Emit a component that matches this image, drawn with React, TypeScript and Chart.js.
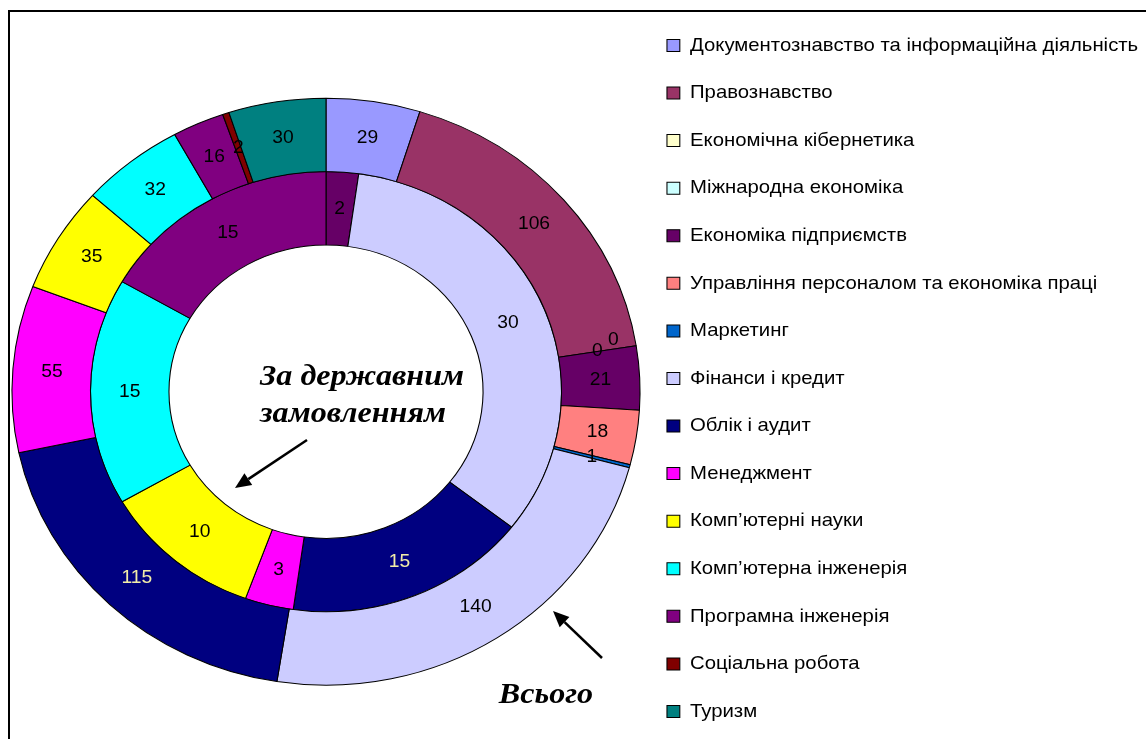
import React, { useEffect, useRef } from 'react';
import { Chart, registerables } from 'chart.js';

Chart.register(...registerables);

// ---- data ----
const categories = [
  'Документознавство та інформаційна діяльність',
  'Правознавство',
  'Економічна кібернетика',
  'Міжнародна економіка',
  'Економіка підприємств',
  'Управління персоналом та економіка праці',
  'Маркетинг',
  'Фінанси і кредит',
  'Облік і аудит',
  'Менеджмент',
  'Комп’ютерні науки',
  'Комп’ютерна інженерія',
  'Програмна інженерія',
  'Соціальна робота',
  'Туризм',
];
const seriesNames = ['Всього', 'За державним замовленням'];
const totalValues = [29, 106, 0, 0, 21, 18, 1, 140, 115, 55, 35, 32, 16, 2, 30];
const stateOrderValues = [null, null, null, null, 2, null, null, 30, 15, 3, 10, 15, 15, null, null];

// ---- style ----
const colors = [
  '#9999FF', '#993366', '#FFFFCC', '#CCFFFF', '#660066', '#FF8080', '#0066CC', '#CCCCFF',
  '#000080', '#FF00FF', '#FFFF00', '#00FFFF', '#800080', '#800000', '#008080',
];
const STRETCH_X = 1.07;
const LABEL_FONT = '18px "Liberation Sans", Arial, sans-serif';
const NOTE_FONT = 'italic bold 30px "Liberation Serif", "Times New Roman", serif';
const LEGEND_FAMILY = '"Liberation Sans", Arial, sans-serif';
const LEGEND_SIZE = 19;
const LEGEND_BOX = 12;
const LEGEND_PAD = 28.57;
const CANVAS_W = 1146;
const CANVAS_H = 776;
const LEGEND_LEFT = 638.4;
const labelNudge: Record<string, [number, number]> = { '0-2': [16, -11] };

function labelColor(bg: string) {
  return bg === '#000080' ? '#F2EDA8' : '#000000';
}

function stretchAbout(ctx: CanvasRenderingContext2D, cx: number) {
  ctx.translate(cx, 0);
  ctx.scale(STRETCH_X, 1);
  ctx.translate(-cx, 0);
}

function stretchedText(ctx: CanvasRenderingContext2D, text: string, x: number, y: number) {
  ctx.save();
  stretchAbout(ctx, x);
  ctx.fillText(text, x, y);
  ctx.restore();
}

const ellipseAndLabels = {
  id: 'ellipseAndLabels',
  beforeDraw(chart: any) {
    const ctx = chart.ctx;
    ctx.save();
    const lg = chart.legend;
    const anchor = lg ? lg.left + lg.options.labels.padding : 0;
    stretchAbout(ctx, anchor);
  },
  beforeDatasetsDraw(chart: any) {
    const ctx = chart.ctx;
    ctx.restore();
    const arc = chart.getDatasetMeta(0).data[0];
    ctx.save();
    stretchAbout(ctx, arc.x);
  },
  afterDatasetsDraw(chart: any) {
    const ctx = chart.ctx;
    ctx.restore();
    ctx.save();
    ctx.font = LABEL_FONT;
    ctx.textAlign = 'center';
    ctx.textBaseline = 'middle';
    chart.data.datasets.forEach((ds: any, di: number) => {
      const meta = chart.getDatasetMeta(di);
      meta.data.forEach((arc: any, i: number) => {
        const raw = ds.data[i];
        if (raw === null || raw === undefined) return;
        const p = arc.getProps(['x', 'y', 'startAngle', 'endAngle', 'innerRadius', 'outerRadius'], true);
        const a = (p.startAngle + p.endAngle) / 2;
        const r = (p.innerRadius + p.outerRadius) / 2;
        let x = p.x + STRETCH_X * r * Math.cos(a);
        let y = p.y + r * Math.sin(a);
        const n = labelNudge[`${di}-${i}`];
        if (n) { x += n[0]; y += n[1]; }
        ctx.fillStyle = labelColor(colors[i]);
        stretchedText(ctx, String(raw), x, y);
      });
    });
    ctx.restore();
  },
};

function arrow(ctx: CanvasRenderingContext2D, x0: number, y0: number, x1: number, y1: number) {
  const ang = Math.atan2(y1 - y0, x1 - x0);
  const head = 16;
  const half = 7;
  const bx = x1 - head * Math.cos(ang);
  const by = y1 - head * Math.sin(ang);
  ctx.beginPath();
  ctx.moveTo(x0, y0);
  ctx.lineTo(bx, by);
  ctx.stroke();
  ctx.beginPath();
  ctx.moveTo(x1, y1);
  ctx.lineTo(bx + half * Math.sin(ang), by - half * Math.cos(ang));
  ctx.lineTo(bx - half * Math.sin(ang), by + half * Math.cos(ang));
  ctx.closePath();
  ctx.fill();
}

const notes = {
  id: 'notes',
  afterDraw(chart: any) {
    const ctx = chart.ctx;
    ctx.save();
    ctx.fillStyle = '#000';
    ctx.strokeStyle = '#000';
    ctx.lineWidth = 2.5;
    ctx.font = NOTE_FONT;
    ctx.textAlign = 'center';
    ctx.textBaseline = 'alphabetic';
    stretchedText(ctx, 'За державним', 362, 385);
    stretchedText(ctx, 'замовленням', 353, 422);
    stretchedText(ctx, seriesNames[0], 546, 703);
    arrow(ctx, 307, 440, 235, 488);
    arrow(ctx, 602, 658, 553, 611);
    ctx.restore();
  },
};

function legendNaturalWidth(): number {
  const c = document.createElement('canvas').getContext('2d')!;
  c.font = `${LEGEND_SIZE}px ${LEGEND_FAMILY}`;
  let w = 0;
  for (const t of categories) w = Math.max(w, c.measureText(t).width);
  return LEGEND_PAD + LEGEND_BOX + LEGEND_SIZE / 2 + w + 10;
}

export default function App() {
  const ref = useRef<HTMLCanvasElement>(null);
  useEffect(() => {
    if (!ref.current) return;
    const lw = legendNaturalWidth();
    const padRight = CANVAS_W - LEGEND_LEFT - lw;
    const chart = new Chart(ref.current, {
      type: 'doughnut',
      data: {
        labels: categories,
        datasets: [
          {
            label: seriesNames[0],
            data: totalValues,
            backgroundColor: colors,
            borderColor: '#000000',
            borderWidth: 1,
            clip: false,
          } as any,
          {
            label: seriesNames[1],
            data: stateOrderValues as any,
            backgroundColor: colors,
            borderColor: '#000000',
            borderWidth: 1,
            clip: false,
          } as any,
        ],
      },
      options: {
        responsive: false,
        animation: false,
        devicePixelRatio: 1,
        radius: 293.5,
        cutout: '50%',
        layout: { padding: { left: 13.6, top: 7.4, right: padRight, bottom: 0 } },
        plugins: {
          tooltip: { enabled: false },
          legend: {
            position: 'right',
            align: 'start',
            labels: {
              boxWidth: LEGEND_BOX,
              boxHeight: LEGEND_BOX,
              padding: LEGEND_PAD,
              color: '#000',
              font: { family: LEGEND_FAMILY, size: LEGEND_SIZE },
            },
          },
        },
      } as any,
      plugins: [ellipseAndLabels, notes],
    });
    return () => chart.destroy();
  }, []);

  return (
    <div style={{ position: 'fixed', left: 0, top: 0, width: 1146, height: 739, overflow: 'hidden', background: '#fff' }}>
      <canvas ref={ref} width={CANVAS_W} height={CANVAS_H} style={{ position: 'absolute', left: 0, top: 0 }} />
      <div
        style={{
          position: 'absolute',
          left: 8,
          top: 10,
          width: 1200,
          height: 800,
          borderLeft: '2px solid #000',
          borderTop: '2px solid #000',
          pointerEvents: 'none',
        }}
      />
    </div>
  );
}
